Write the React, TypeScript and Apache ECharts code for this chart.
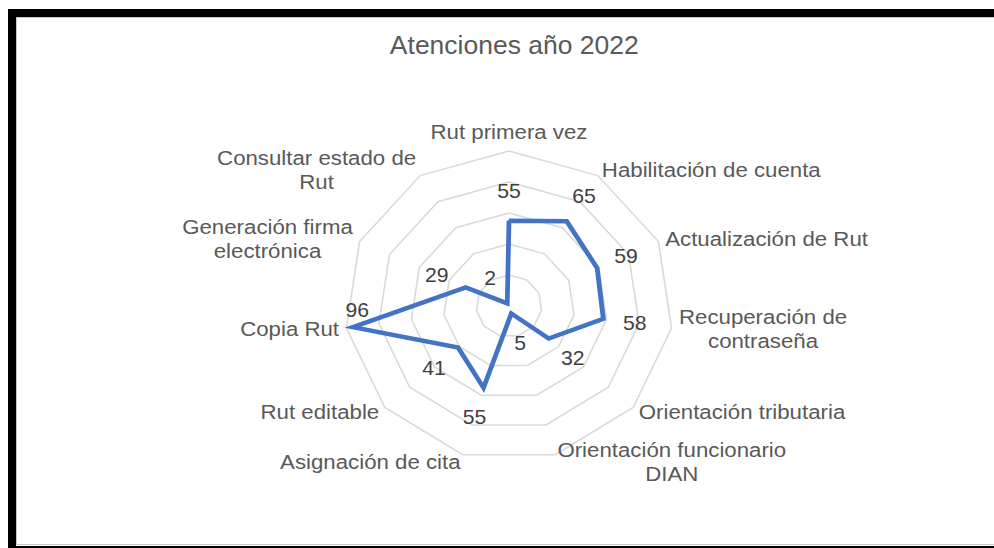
import React, { useEffect, useRef } from 'react';
import * as echarts from 'echarts';

// Categories listed clockwise starting at the top
const categories: string[] = [
  'Rut primera vez',
  'Habilitación de cuenta',
  'Actualización de Rut',
  'Recuperación de\ncontraseña',
  'Orientación tributaria',
  'Orientación funcionario\nDIAN',
  'Asignación de cita',
  'Rut editable',
  'Copia Rut',
  'Generación firma\nelectrónica',
  'Consultar estado de\nRut',
];
const values: number[] = [55, 65, 59, 58, 32, 5, 55, 41, 96, 29, 2];
const axisMax = 100;
const ringCount = 5;
const chartTitle = 'Atenciones año 2022';

const FONT = '"Liberation Sans", Arial, sans-serif';
// The reference picture is slightly wider than tall: draw in a 938px box, stretched to 994px.
const BOX_W = 938;
const SX = 994 / BOX_W;
const CX = 509 / SX;
const CY = 306;
const R = 155;
const LABEL_OFFSET = 30;

export default function App() {
  const ref = useRef<HTMLDivElement>(null);

  useEffect(() => {
    if (!ref.current) return;
    const chart = echarts.init(ref.current, undefined, { renderer: 'svg' });

    // ECharts radar runs counter-clockwise; keep the first, reverse the rest
    const order = [0, ...categories.map((_, i) => i).slice(1).reverse()];
    const indicators = order.map((i) => ({ name: categories[i], max: axisMax, min: 0 }));
    const seriesValues = order.map((i) => values[i]);

    chart.setOption({
      animation: false,
      backgroundColor: '#ffffff',
      title: {
        text: chartTitle,
        left: CX,
        top: 28,
        textAlign: 'center',
        textStyle: { fontFamily: FONT, fontSize: 25, fontWeight: 'normal', color: '#595959' },
      },
      radar: {
        center: [CX, CY],
        radius: R,
        startAngle: 90,
        splitNumber: ringCount,
        shape: 'polygon',
        indicator: indicators,
        axisNameGap: 7,
        axisName: {
          color: '#595959',
          fontFamily: FONT,
          fontSize: 21,
          formatter: (name: string) => name.split('\n').map((s) => `{c|${s}}`).join('\n'),
          rich: {
            c: { align: 'center', color: '#595959', fontFamily: FONT, fontSize: 21, lineHeight: 24 },
          },
        },
        axisLine: { show: false },
        axisTick: { show: false },
        axisLabel: { show: false },
        splitArea: { show: false },
        splitLine: { lineStyle: { color: '#d9d9d9', width: 1.5 } },
      },
      series: [
        {
          type: 'radar',
          symbol: 'circle',
          symbolSize: 2,
          itemStyle: { color: '#4472C4' },
          lineStyle: { color: '#4472C4', width: 4.5, join: 'miter' },
          label: {
            show: true,
            color: '#404040',
            fontFamily: FONT,
            fontSize: 20,
          },
          labelLayout: (p: any) => {
            const px = p.rect.x + p.rect.width / 2;
            const py = p.rect.y + p.rect.height / 2;
            const dx = px - CX;
            const dy = py - CY;
            const d = Math.hypot(dx, dy) || 1;
            if (d + LABEL_OFFSET > R) {
              return { x: px + 4, y: py - 17, align: 'center', verticalAlign: 'middle' };
            }
            return {
              x: px + (dx / d) * LABEL_OFFSET,
              y: py + (dy / d) * LABEL_OFFSET,
              align: 'center',
              verticalAlign: 'middle',
            };
          },
          data: [{ value: seriesValues, name: chartTitle }],
        },
      ],
      graphic: [
        {
          type: 'rect',
          z: 100,
          silent: true,
          shape: { x: 16.5 / SX, y: 17.5, width: 990 / SX, height: 527 },
          style: { fill: 'none', stroke: '#c8c8c8', lineWidth: 1 },
        },
        { type: 'rect', z: 101, silent: true, shape: { x: 8 / SX, y: 9, width: 8 / SX, height: 539 }, style: { fill: '#000' } },
        { type: 'rect', z: 101, silent: true, shape: { x: 8 / SX, y: 9, width: 986 / SX, height: 8 }, style: { fill: '#000' } },
        { type: 'rect', z: 101, silent: true, shape: { x: 8 / SX, y: 546, width: 986 / SX, height: 2 }, style: { fill: '#000' } },
      ],
    });

    return () => chart.dispose();
  }, []);

  return (
    <div
      ref={ref}
      style={{
        position: 'absolute',
        left: 0,
        top: 0,
        width: BOX_W,
        height: 548,
        transform: `scaleX(${SX})`,
        transformOrigin: '0 0',
      }}
    />
  );
}
